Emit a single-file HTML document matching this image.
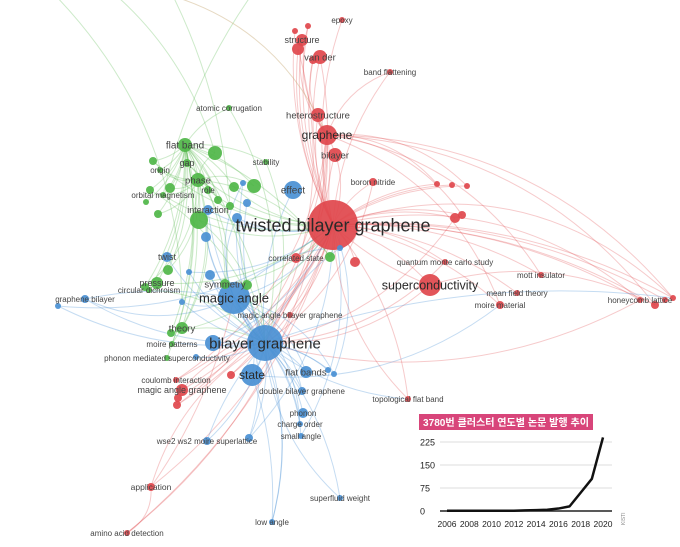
<!DOCTYPE html>
<html><head><meta charset="utf-8">
<style>
html,body{margin:0;padding:0;background:#fff;width:680px;height:547px;overflow:hidden}
svg{display:block}
text{font-family:"Liberation Sans","Noto Sans CJK KR",sans-serif}
</style></head>
<body>
<svg id="net" width="680" height="547" viewBox="0 0 680 547" xmlns="http://www.w3.org/2000/svg">
<g id="edges"></g>
<g id="nodes"></g>
<g id="labels"></g>
<g id="inset"></g>
</svg>
<script>
// network nodes rows: label, x, y, radius, cluster (0 red, 1 blue, 2 green)
const nodeRows=[
["twisted bilayer graphene",333,225,25,0],["superconductivity",430,285,11,0],["graphene",327,135,10,0],["bilayer",335,155,7,0],
["heterostructure",318,115,7,0],["van der",320,57,7,0],["structure",302,40,6,0],["epoxy",342,20,3,0],["band flattening",390,72,3,0],
["boron nitride",373,182,4,0],["",437,184,3,0],["",452,185,3,0],["",467,186,3,0],["",455,218,5,0],["",462,215,4,0],["",355,262,5,0],
["correlated state",296,258,5,0],["quantum monte carlo study",445,262,3,0],["mott insulator",541,275,3,0],["mean field theory",517,293,3,0],
["moire material",500,305,4,0],["honeycomb lattice",640,300,3,0],["",655,305,4,0],["",665,300,3,0],["",673,298,3,0],
["magic angle graphene",182,390,6,0],["coulomb interaction",176,380,3,0],["",178,398,4,0],["",177,405,4,0],
["application",151,487,4,0],["amino acid detection",127,533,3,0],["topological flat band",408,399,3,0],["",231,375,4,0],
["",298,49,6,0],["",313,60,4,0],["",295,31,3,0],["",308,26,3,0],["magic angle bilayer graphene",290,315,3,0],
["bilayer graphene",265,343,18,1],["magic angle",234,298,16,1],["state",252,375,11,1],["effect",293,190,9,1],["interaction",208,210,5,1],
["twist",167,257,5,1],["graphene bilayer",85,299,4,1],["",58,306,3,1],["flat bands",306,372,6,1],["",328,370,3,1],["",334,374,3,1],
["phonon",303,413,5,1],["charge order",300,424,3,1],["small angle",301,436,3,1],["double bilayer graphene",302,391,4,1],
["wse2 ws2 moire superlattice",207,441,4,1],["",249,438,4,1],["superfluid weight",340,498,3,1],["low angle",272,522,3,1],
["",213,343,8,1],["",243,183,3,1],["",247,203,4,1],["",237,218,5,1],["",206,237,5,1],["",210,275,5,1],["",189,272,3,1],
["",182,302,3,1],["",196,357,3,1],["",340,248,3,1],
["flat band",185,145,7,2],["",215,153,7,2],["gap",187,163,4,2],["origin",160,170,3,2],["phase",198,180,7,2],["role",208,190,4,2],
["stability",266,162,3,2],["",254,186,7,2],["",234,187,5,2],["",170,188,5,2],["",150,190,4,2],["",153,161,4,2],["",146,202,3,2],
["",158,214,4,2],["",199,220,9,2],["",218,200,4,2],["",230,206,4,2],["orbital magnetism",163,195,3,2],["atomic corrugation",229,108,3,2],
["",168,270,5,2],["pressure",157,283,6,2],["",145,287,4,2],["circular dichroism",149,290,3,2],["symmetry",225,284,5,2],["",247,285,5,2],
["theory",182,328,6,2],["",171,333,4,2],["moire patterns",172,344,3,2],["phonon mediated superconductivity",167,358,3,2],["",330,257,5,2]
];
const fontSize={"twisted bilayer graphene":18,"bilayer graphene":15,"superconductivity":12.5,"magic angle":13,"state":12,"graphene":12,"flat band":10,"bilayer":9.5,"heterostructure":9.5,"van der":9.5,"structure":9,"effect":10,"interaction":9,"twist":9,"phase":9.5,"symmetry":9.5,"theory":9.5,"flat bands":9.5,"application":8.5,"pressure":9,"magic angle graphene":9,"gap":9};

// inset chart data
const years=[2006,2007,2008,2009,2010,2011,2012,2013,2014,2015,2016,2017,2018,2019,2020];
const papers=[1,1,1,1,1,1,1,2,3,4,8,15,60,105,240];
const yTicks=[0,75,150,225];
const xTickYears=[2006,2008,2010,2012,2014,2016,2018,2020];

const NS="http://www.w3.org/2000/svg";
const colors=["#e0474c","#4a90d4","#4fb648"];
const edgeColors=["rgba(226,80,84,0.3)","rgba(80,150,215,0.33)","rgba(90,185,80,0.3)"];
function mk(tag,attrs,parent){const e=document.createElementNS(NS,tag);for(const k in attrs)e.setAttribute(k,attrs[k]);parent.appendChild(e);return e;}
const gE=document.getElementById('edges'),gN=document.getElementById('nodes'),gL=document.getElementById('labels'),gI=document.getElementById('inset');
const N=nodeRows.length;
const idx=l=>nodeRows.findIndex(r=>r[0]===l);
const hubs=[[idx("twisted bilayer graphene"),idx("graphene")],[idx("bilayer graphene"),idx("magic angle")],[idx("flat band"),idx("phase")]];
function pathTo(x1,y1,x2,y2,bend,col){
  const mx=(x1+x2)/2,my=(y1+y2)/2,dx=x2-x1,dy=y2-y1;
  const p=mk('path',{d:`M${x1},${y1} Q${mx-dy*bend},${my+dx*bend} ${x2},${y2}`,fill:'none',stroke:col,'stroke-width':1},gE);
  
  
}
function curve(a,b,bend){pathTo(nodeRows[a][1],nodeRows[a][2],nodeRows[b][1],nodeRows[b][2],bend,edgeColors[nodeRows[a][4]]);}
for(let i=0;i<N;i++){
  const c=nodeRows[i][4];
  hubs[c].forEach((h,k)=>{if(h!==i&&(k===0||i%2===0))curve(i,h,0.15+0.08*k);});
  if(c!==0&&i%3===0)curve(i,0,0.2);
  if(c!==1&&i%4===1)curve(i,hubs[1][0],-0.2);
}
[[0,21,-0.25],[0,24,-0.3],[1,22,-0.2],[0,31,0.2],[38,31,0.15],[39,44,0.1],[38,24,-0.12],[40,20,0.2],[0,1,0.1],[38,55,0.2],[40,56,-0.1],[29,39,0.1],[30,29,0.3],[38,53,0.1]].forEach(a=>curve(a[0],a[1],a[2]));
[[64,50,-10,0.2],[68,110,-10,0.15],[83,170,-10,0.1],[84,255,-10,-0.1]].forEach(([n,x,y,b])=>pathTo(nodeRows[n][1],nodeRows[n][2],x,y,b,edgeColors[2]));
pathTo(327,135,150,-10,0.25,'rgba(200,170,120,0.45)');

for(let i=0;i<N;i++){
  const [lab,x,y,r,cl]=nodeRows[i];
  const c=mk('circle',{cx:x,cy:y,r:r,fill:colors[cl],'fill-opacity':0.92},gN);
  
  
  if(lab){
    const fs=fontSize[lab]||8;
    const t=mk('text',{x:x,y:y+fs*0.35,'font-size':fs,'text-anchor':'middle',fill:fs>=12?'#2a2a2a':'#444'},gL);
    t.textContent=lab;
    
    
  }
}

// inset chart
const X0=447,X1=603,Y0=511,Y225=442;
const xs=y=>X0+(y-2006)*(X1-X0)/14;
const ys=v=>Y0-v*(Y0-Y225)/225;
const bg=mk('rect',{x:410,y:408,width:270,height:139,fill:'#fff'},gI);


const tb=mk('rect',{x:419,y:414,width:174,height:16,fill:'#d8457a'},gI);


const tt=mk('text',{x:423,y:426,'font-size':10,'font-weight':'bold',fill:'#fff',textLength:166,lengthAdjust:'spacingAndGlyphs'},gI);
tt.textContent='3780번 클러스터 연도별 논문 발행 추이';


yTicks.forEach(v=>{
  const g=mk('line',{x1:440,x2:612,y1:ys(v),y2:ys(v),stroke:v===0?'#222':'#ddd','stroke-width':v===0?1.5:1},gI);
  
  
  const t=mk('text',{x:420,y:ys(v)+3.5,'font-size':9,fill:'#222'},gI);
  t.textContent=v;
  
  
});
xTickYears.forEach(y=>{
  const t=mk('text',{x:xs(y),y:527,'font-size':8.5,'text-anchor':'middle',fill:'#222'},gI);
  t.textContent=y;
  
  
});
const line=mk('polyline',{points:years.map((y,i)=>xs(y)+','+ys(papers[i])).join(' '),fill:'none',stroke:'#111','stroke-width':2.5,'stroke-linejoin':'round'},gI);


const src=mk('text',{x:625,y:525,'font-size':5,fill:'#888',transform:'rotate(-90 625 525)'},gI);
src.textContent='KISTI';


</script>
</body></html>
